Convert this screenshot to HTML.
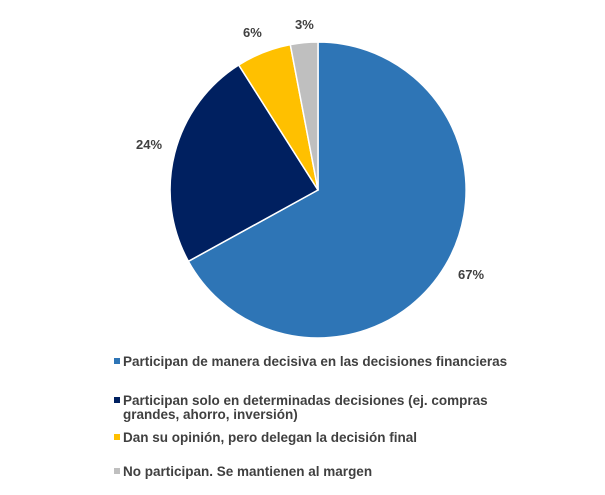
<!DOCTYPE html>
<html><head><meta charset="utf-8"><style>
body{margin:0;background:#fff;width:605px;height:495px;overflow:hidden;font-family:"Liberation Sans",Arial,sans-serif;}
</style></head><body>
<svg width="605" height="495" xmlns="http://www.w3.org/2000/svg" style="position:absolute;left:0;top:0">
<g stroke="#fff" stroke-width="1.5" stroke-linejoin="round">
<path d="M318,190 L318,42 A148,148 0 1,1 188.4,261.3 Z" fill="#2E75B6"/>
<path d="M318,190 L188.4,261.3 A148,148 0 0,1 238.7,65 Z" fill="#002060"/>
<path d="M318,190 L238.7,65 A148,148 0 0,1 290.3,44.6 Z" fill="#FFC000"/>
<path d="M318,190 L290.3,44.6 A148,148 0 0,1 318,42 Z" fill="#BFBFBF"/>
</g>
<g font-size="13" font-weight="bold" fill="#404040">
<text x="458" y="279">67%</text>
<text x="136" y="149">24%</text>
<text x="243" y="37">6%</text>
<text x="295" y="29">3%</text>
</g>
<g font-size="13.5" font-weight="bold" fill="#404040">
<rect x="114" y="358" width="6" height="6" fill="#2E75B6"/>
<text x="123" y="366">Participan de manera decisiva en las decisiones financieras</text>
<rect x="114" y="397" width="6" height="6" fill="#002060"/>
<text x="123" y="405">Participan solo en determinadas decisiones (ej. compras</text>
<text x="123" y="419">grandes, ahorro, inversión)</text>
<rect x="114" y="434" width="6" height="6" fill="#FFC000"/>
<text x="123" y="442">Dan su opinión, pero delegan la decisión final</text>
<rect x="114" y="468" width="6" height="6" fill="#BFBFBF"/>
<text x="123" y="476">No participan. Se mantienen al margen</text>
</g>
</svg>
</body></html>
